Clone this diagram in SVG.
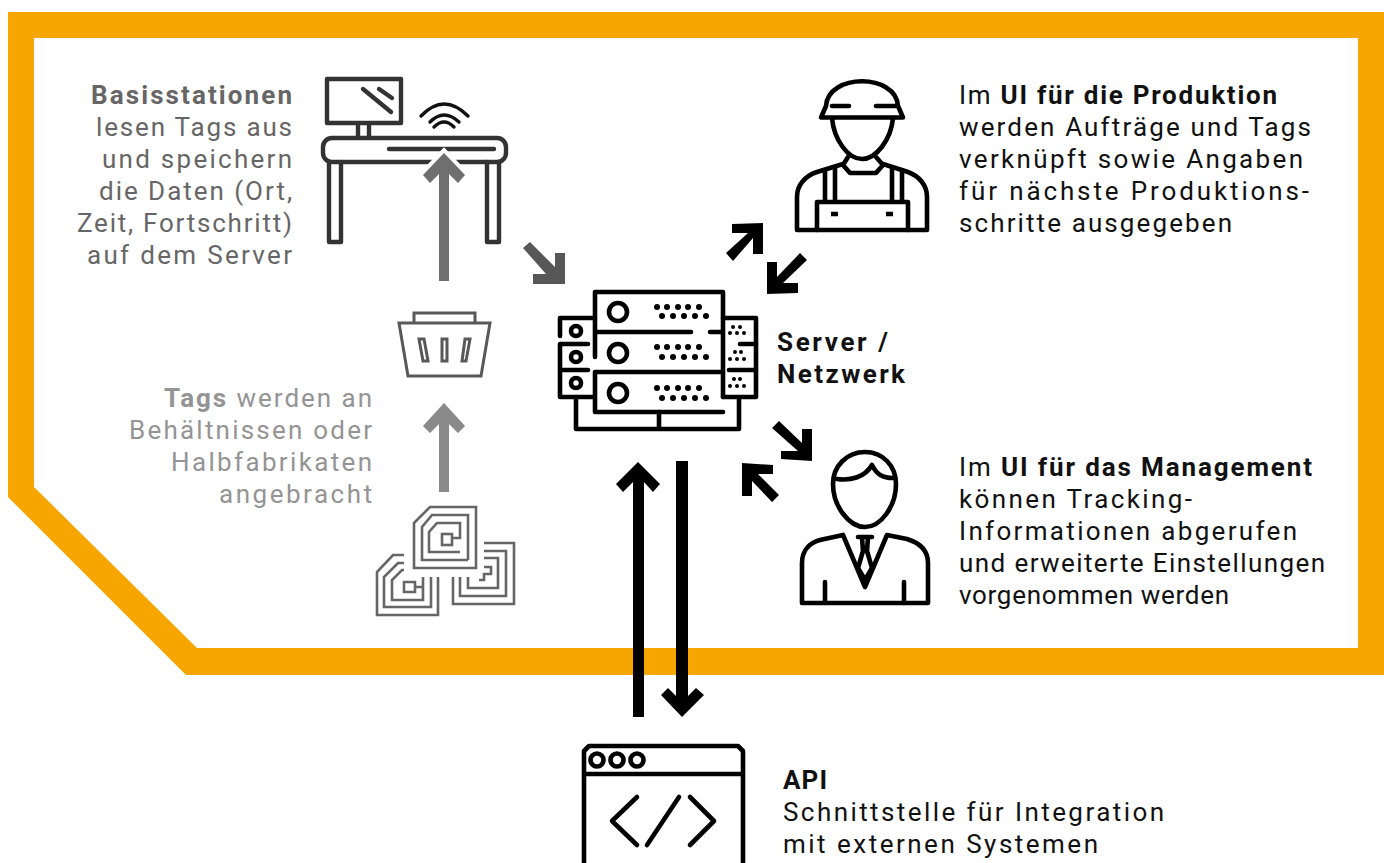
<svg xmlns="http://www.w3.org/2000/svg" width="1384" height="863" viewBox="0 0 1384 863">
<style>
text{font-family:"Roboto","Liberation Sans",sans-serif;font-size:26px;font-weight:400}
.b{font-weight:700}
.k{fill:#111}.g1{fill:#666}.g2{fill:#949494}
.e{text-anchor:end}
.i{fill:none;stroke:#000;stroke-width:4.6;stroke-linecap:round;stroke-linejoin:round}
.d{fill:none;stroke:#333;stroke-width:4.4;stroke-linecap:round;stroke-linejoin:round}
.t{fill:none;stroke:#666;stroke-width:2.6}
.bk{fill:none;stroke:#585858;stroke-width:3}
</style>
<path id="frame" fill="#f7a600" fill-rule="evenodd" d="M8,12H1384V675H186L8,497ZM34,38V487L197,648H1358V38Z"/>
<g id="basisstation">
<g class="d">
<rect x="327" y="79" width="74" height="44"/>
<path d="M363,89L391,112M379,89L392,98M358,124V137M369,124V137"/>
<rect x="323" y="138" width="183" height="24" rx="9"/>
<path d="M389,149H494M329,162V242H341V162M487,162V242H499V162"/>
</g>
<path d="M421,116Q444,92 468,116M430,122Q444,108 459,122M434,127Q444,117 454,127" fill="none" stroke="#111" stroke-width="3.4" stroke-linecap="round"/>
</g>
<g id="behaelter">
<path class="bk" d="M414,323V313H475V323M399,323H490L481,376H408Z"/>
<path class="bk" d="M419,339H424L428,361H423ZM442,339H447V361H442ZM465,339H470L466,361H462Z" stroke-width="2.4"/>
</g>
<g id="tags" class="t">
<path d="M414,523L430,507H476V568H414Z"/>
<path d="M468,560H422V527L432,515H468V560"/>
<path d="M460,552H429V532L437,523H460V538H452"/>
<rect x="442" y="534" width="10" height="11"/>
<path d="M404,555H393L377,572V615H438V577"/>
<path d="M404,563H398L384,577V607H431V577"/>
<path d="M404,570H402L392,580V600H423V577"/>
<path d="M423,587H415V582H404V592H415V587"/>
<path d="M484,543H514V604H453V577"/>
<path d="M484,551H506V596H460V577"/>
<path d="M484,558H498V588H468V577"/>
<path d="M484,567H491V574H484V580H479"/>
</g>
<g id="server" class="i">
<path d="M560,336V318H595V292H723V397M595,318V332H691M710,332H723M595,332V357"/>
<path d="M588,344H560V397H595V412H723M595,372V412M560,370H588M595,372H723M729,370H756"/>
<path d="M723,318H756V397H723M740,344H756M576,397V429H739V397M659,412V429"/>
<circle cx="618" cy="312" r="9"/><circle cx="618" cy="353" r="9"/><circle cx="618" cy="393" r="9"/>
<circle cx="576" cy="331" r="5"/><circle cx="576" cy="357" r="5"/><circle cx="576" cy="383" r="5"/>
<g fill="#000" stroke="none">
<circle cx="657" cy="307" r="3"/><circle cx="667" cy="307" r="3"/><circle cx="678" cy="307" r="3"/><circle cx="688" cy="307" r="3"/><circle cx="699" cy="307" r="3"/>
<circle cx="662" cy="316" r="3"/><circle cx="673" cy="316" r="3"/><circle cx="684" cy="316" r="3"/><circle cx="695" cy="316" r="3"/><circle cx="706" cy="316" r="3"/>
<circle cx="657" cy="347" r="3"/><circle cx="667" cy="347" r="3"/><circle cx="678" cy="347" r="3"/><circle cx="688" cy="347" r="3"/><circle cx="699" cy="347" r="3"/>
<circle cx="662" cy="357" r="3"/><circle cx="673" cy="357" r="3"/><circle cx="684" cy="357" r="3"/><circle cx="695" cy="357" r="3"/><circle cx="706" cy="357" r="3"/>
<circle cx="657" cy="388" r="3"/><circle cx="667" cy="388" r="3"/><circle cx="678" cy="388" r="3"/><circle cx="688" cy="388" r="3"/><circle cx="699" cy="388" r="3"/>
<circle cx="662" cy="398" r="3"/><circle cx="673" cy="398" r="3"/><circle cx="684" cy="398" r="3"/><circle cx="695" cy="398" r="3"/><circle cx="706" cy="398" r="3"/>
<circle cx="733" cy="327" r="2"/><circle cx="740" cy="327" r="2"/><circle cx="730" cy="333" r="2"/><circle cx="737" cy="333" r="2"/><circle cx="744" cy="333" r="2"/>
<circle cx="735" cy="352" r="2"/><circle cx="741" cy="352" r="2"/><circle cx="730" cy="359" r="2"/><circle cx="737" cy="359" r="2"/><circle cx="744" cy="359" r="2"/>
<circle cx="734" cy="379" r="2"/><circle cx="740" cy="379" r="2"/><circle cx="730" cy="386" r="2"/><circle cx="737" cy="386" r="2"/><circle cx="744" cy="386" r="2"/>
</g>
</g>
<g id="produktion" class="i">
<path d="M826,106C828,73 896,73 898,106M826,106L821,117.5H903L898,106M832,106H849M876,106H897"/>
<path d="M832,118C834,140 848,159 862,159C876,159 891,140 893,118"/>
<path d="M848,157L843,165L850,173H876L883,165L876,157"/>
<path d="M843,164L817,172C805,176 797,185 797,197V230H927V197C927,185 919,176 908,172L883,164"/>
<path d="M825,170V202M835,168V202M892,168V202M902,170V202M817,202H908V230M817,202V230"/>
<path d="M831,214H838M886,214H893" stroke-linecap="butt"/>
</g>
<g id="management" class="i">
<path d="M865,452C847,452 833,466 833,484C833,506 849,527 865,527C881,527 896,506 896,484C896,466 883,452 865,452Z"/>
<path d="M837,479C851,481 865,477 872,465C877,475 883,478 893,478"/>
<path d="M843,535L820,540C809,543 802,551 802,563V603H928V563C928,551 920,543 907,539L887,535L865,587L843,535"/>
<path d="M858,537H872M862,537L863,551L858,568L865,580L872,568L867,551L868,537M825,582V603M904,582V603"/>
</g>
<g id="api" class="i">
<path d="M584,863V751L589,746H738L743,751V863M584,774H743"/>
<circle cx="597" cy="760" r="6.5"/><circle cx="617" cy="760" r="6.5"/><circle cx="637" cy="760" r="6.5"/>
<path d="M637,797L612,821L637,845M690,797L714,821L690,845M679,797L647,845"/>
</g>
<g id="connectors">
<polygon fill="#6f6f6f" stroke="#fff" stroke-width="8" stroke-linejoin="miter" points="444,153 465,175 458,183 449,174 449,281 439,281 439,174 430,183 423,175"/>
<polygon fill="#6f6f6f" points="444,153 465,175 458,183 449,174 449,281 439,281 439,174 430,183 423,175"/>
<polygon fill="#575757" points="523,248 530,242 555,267 555,253 565,253 565,284 533,284 533,274 546,274"/>
<polygon fill="#8a8a8a" points="444,403 465,426 458,433 449,424 449,492 439,492 439,424 430,433 423,426"/>
<polygon points="763,223 763,254 753,254 753,238 733,261 726,253 748,233 732,233 732,224"/>
<polygon points="767,294 798,293 798,283 783,283 807,260 800,253 777,277 777,262 767,262"/>
<polygon points="812,461 781,459 781,451 798,451 772,428 779,421 802,443 802,429 812,429"/>
<polygon points="742,463 773,465 773,474 758,474 779,495 772,502 752,481 752,496 742,496"/>
<polygon points="638,462 660,484 653,492 644,482 644,717 633,717 633,482 623,492 616,484"/>
<polygon points="682,717 661,695 668,688 676,696 676,461 688,461 688,696 696,688 704,695"/>
</g>
<g id="labels">
<text class="g1 e" x="292" y="104" textLength="201"><tspan class="b">Basisstationen</tspan></text>
<text class="g1 e" x="292" y="136" textLength="196">lesen Tags aus</text>
<text class="g1 e" x="292" y="168" textLength="190">und speichern</text>
<text class="g1 e" x="292" y="200" textLength="193">die Daten (Ort,</text>
<text class="g1 e" x="292" y="232" textLength="215">Zeit, Fortschritt)</text>
<text class="g1 e" x="292" y="264" textLength="205">auf dem Server</text>
<text class="g2 e" x="372" y="407" textLength="208"><tspan class="b">Tags</tspan> werden an</text>
<text class="g2 e" x="372" y="439" textLength="243">Behältnissen oder</text>
<text class="g2 e" x="372" y="471" textLength="201">Halbfabrikaten</text>
<text class="g2 e" x="372" y="503" textLength="153">angebracht</text>
<text class="k" x="959" y="104" textLength="318">Im <tspan class="b">UI für die Produktion</tspan></text>
<text class="k" x="959" y="136" textLength="352">werden Aufträge und Tags</text>
<text class="k" x="959" y="168" textLength="344">verknüpft sowie Angaben</text>
<text class="k" x="959" y="200" textLength="350">für nächste Produktions-</text>
<text class="k" x="959" y="232" textLength="273">schritte ausgegeben</text>
<text class="k" x="959" y="476" textLength="353">Im <tspan class="b">UI für das Management</tspan></text>
<text class="k" x="959" y="508" textLength="233">können Tracking-</text>
<text class="k" x="959" y="540" textLength="338">Informationen abgerufen</text>
<text class="k" x="959" y="572" textLength="366">und erweiterte Einstellungen</text>
<text class="k" x="959" y="604" textLength="270">vorgenommen werden</text>
<text class="k b" x="777" y="351" textLength="111">Server /</text>
<text class="k b" x="777" y="383" textLength="128">Netzwerk</text>
<text class="k b" x="783" y="789" textLength="44">API</text>
<text class="k" x="783" y="821" textLength="381">Schnittstelle für Integration</text>
<text class="k" x="783" y="853" textLength="315">mit externen Systemen</text>
</g>
</svg>
